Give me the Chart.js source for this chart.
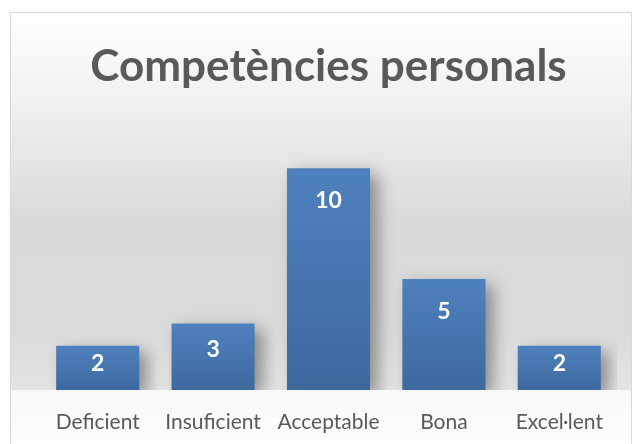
<!DOCTYPE html>
<html>
<head>
<meta charset="utf-8">
<script src="https://cdn.jsdelivr.net/npm/chart.js@4.4.1/dist/chart.umd.min.js"></script>
<style>
    html, body { margin: 0; padding: 0; background: #ffffff; }
    #wrap { width: 633px; height: 444px; position: relative; }
</style>
</head>
<body>
<div id="wrap"><canvas id="compChart"></canvas></div>
<script>
const chartTitle = 'Competències personals';
const categories = ['Deficient', 'Insuficient', 'Acceptable', 'Bona', 'Excel·lent'];
const counts = [2, 3, 10, 5, 2];
const yMax = 12;

// frame + gradient background, drawn before anything else
const backgroundPlugin = {
    id: 'frameBackground',
    beforeDraw(chart) {
        const ctx = chart.ctx;
        const base = chart.chartArea.bottom;
        ctx.save();
        ctx.fillStyle = '#ffffff';
        ctx.fillRect(0, 0, chart.width, chart.height);

        const top = 12;
        const g = ctx.createLinearGradient(0, top, 0, base);
        g.addColorStop(0, '#ffffff');
        g.addColorStop(0.25, '#f0f0f0');
        g.addColorStop(0.55, '#dadada');
        g.addColorStop(0.85, '#dbdbdb');
        g.addColorStop(1, '#e4e4e4');
        ctx.fillStyle = g;
        ctx.fillRect(10, top, chart.width - 12, base - top);

        const g2 = ctx.createLinearGradient(0, base, 0, chart.height);
        g2.addColorStop(0, '#f8f8f8');
        g2.addColorStop(1, '#fdfdfd');
        ctx.fillStyle = g2;
        ctx.fillRect(10, base, chart.width - 12, chart.height - base);

        ctx.strokeStyle = '#d9d9d9';
        ctx.lineWidth = 1;
        ctx.strokeRect(10.5, top + 0.5, chart.width - 12, chart.height + 10);
        ctx.restore();
    }
};

// soft shadow under the bars
const shadowPlugin = {
    id: 'barShadow',
    beforeDatasetsDraw(chart) {
        const ctx = chart.ctx;
        ctx.save();
        ctx.shadowColor = 'rgba(0, 0, 0, 0.38)';
        ctx.shadowBlur = 16;
        ctx.shadowOffsetX = 8;
        ctx.shadowOffsetY = 6;
    },
    afterDatasetsDraw(chart) {
        chart.ctx.restore();
    }
};

// value labels inside the top of each bar
const valueLabelPlugin = {
    id: 'valueLabels',
    afterDatasetsDraw(chart) {
        const ctx = chart.ctx;
        const meta = chart.getDatasetMeta(0);
        ctx.save();
        ctx.font = 'bold 23px Lato';
        ctx.fillStyle = '#ffffff';
        ctx.textAlign = 'center';
        ctx.textBaseline = 'middle';
        meta.data.forEach((bar, i) => {
            const h = bar.base - bar.y;
            const y = bar.y + Math.min(32, h * 0.4);
            ctx.fillText(String(counts[i]), bar.x, y);
        });
        ctx.restore();
    }
};

function barFill(context) {
    const chart = context.chart;
    if (!chart.chartArea) return '#4a7ab5';
    const yScale = chart.scales.y;
    const v = context.raw || 0;
    const top = yScale.getPixelForValue(v);
    const bottom = yScale.getPixelForValue(0);
    const g = chart.ctx.createLinearGradient(0, top, 0, bottom);
    g.addColorStop(0, '#4f81be');
    g.addColorStop(1, '#3d699f');
    return g;
}

const ctx = document.getElementById('compChart').getContext('2d');
new Chart(ctx, {
    type: 'bar',
    data: {
        labels: categories,
        datasets: [{
            label: chartTitle,
            data: counts,
            backgroundColor: barFill,
            borderWidth: 0,
            barPercentage: 0.72,
            categoryPercentage: 1
        }]
    },
    options: {
        responsive: true,
        maintainAspectRatio: false,
        animation: false,
        layout: { padding: { left: 40, right: 16, top: 0, bottom: 0 } },
        scales: {
            y: {
                display: false,
                min: 0,
                max: yMax
            },
            x: {
                grid: { display: false, drawTicks: false },
                border: { display: false },
                ticks: {
                    color: '#595959',
                    font: { family: 'Lato', size: 21 },
                    padding: 20,
                    maxRotation: 0,
                    autoSkip: false
                },
                afterFit(scale) { scale.height = 54; }
            }
        },
        plugins: {
            legend: { display: false },
            tooltip: { enabled: false },
            title: {
                display: true,
                text: chartTitle,
                color: '#595959',
                font: { family: 'Lato', size: 44, weight: 'bold', lineHeight: 1.2 },
                padding: { top: 40, bottom: 31 }
            }
        }
    },
    plugins: [backgroundPlugin, shadowPlugin, valueLabelPlugin]
});
</script>
</body>
</html>
